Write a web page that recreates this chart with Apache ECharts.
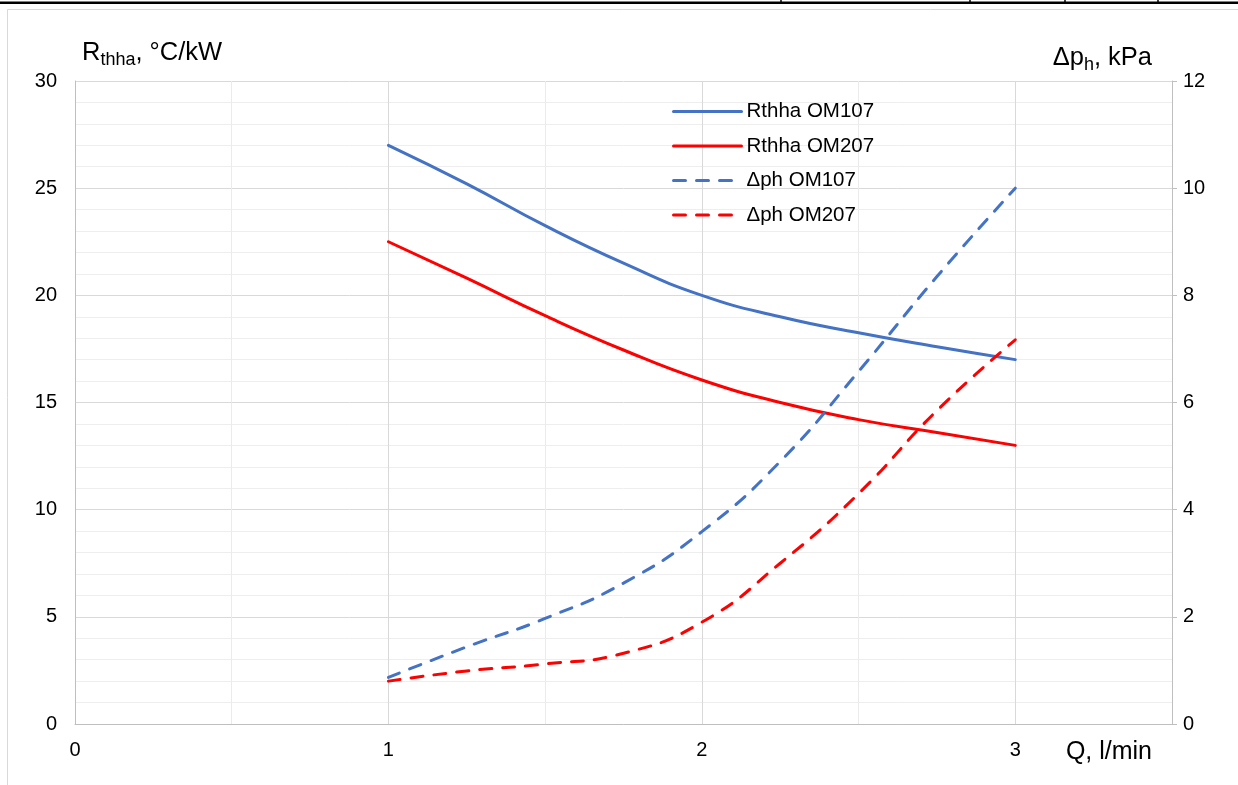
<!DOCTYPE html>
<html>
<head>
<meta charset="utf-8">
<script src="https://cdn.jsdelivr.net/npm/echarts@6/dist/echarts.min.js"></script>
<style>
html,body{margin:0;padding:0;background:#fff;}
#chart{width:1238px;height:785px;}
</style>
</head>
<body>
<div id="chart"></div>
<script>
// Flow rate Q, l/min
const qValues = [1, 1.25, 1.5, 1.75, 2, 2.25, 2.5, 2.75, 3];
// Thermal resistance, °C/kW (left axis)
const rthhaOM107 = [27, 25.2, 23.25, 21.5, 20, 19.0, 18.25, 17.6, 17];
const rthhaOM207 = [22.5, 20.8, 19.05, 17.45, 16.05, 15.0, 14.2, 13.6, 13];
// Pressure drop, kPa (right axis)
const dphOM107 = [0.87, 1.44, 1.97, 2.63, 3.59, 4.9, 6.58, 8.35, 10];
const dphOM207 = [0.8, 0.99, 1.12, 1.32, 1.9, 3.0, 4.3, 5.85, 7.17];
const seriesNames = ['Rthha OM107', 'Rthha OM207', '\u0394ph OM107', '\u0394ph OM207'];
const xTicks = [0, 1, 2, 3];

const FONT = '"Liberation Sans", Arial, sans-serif';
const BLUE = '#4472C4';
const RED = '#FF0000';
const DASH = [12, 11];

function pairs(arr) { return qValues.map((q, i) => [q, arr[i]]); }

const chart = echarts.init(document.getElementById('chart'));
const option = {
  backgroundColor: '#fff',
  animation: false,
  textStyle: { fontFamily: FONT },
  grid: { left: 75, right: 66, top: 81, bottom: 61 },
  legend: {
    orient: 'vertical',
    left: 667,
    top: 96,
    itemWidth: 68,
    itemHeight: 20,
    itemGap: 13.5,
    itemStyle: { color: 'rgba(0,0,0,0)', borderWidth: 0, opacity: 0 },
    lineStyle: { width: 3, cap: 'round' },
    textStyle: { fontSize: 20.5, color: '#000', fontFamily: FONT },
    data: seriesNames
  },
  xAxis: {
    type: 'value',
    min: 0,
    max: 3.5,
    interval: 0.5,
    axisLine: { show: true, lineStyle: { color: '#bfbfbf', width: 1 } },
    axisTick: { show: false },
    axisLabel: {
      fontSize: 20, color: '#000', margin: 16,
      formatter: v => (xTicks.indexOf(v) >= 0 ? String(v) : '')
    },
    splitLine: { show: true, lineStyle: { color: ['#d9d9d9', '#ebebeb'], width: 1 } },
    name: 'Q, l/min',
    nameLocation: 'end',
    nameGap: -20,
    nameTextStyle: { fontSize: 25, color: '#000', align: 'right', verticalAlign: 'top', padding: [16, 0, 0, 0] }
  },
  yAxis: [
    {
      type: 'value',
      position: 'left',
      min: 0, max: 30, interval: 5,
      axisLine: { show: true, lineStyle: { color: '#bfbfbf', width: 1 } },
      axisTick: { show: false },
      axisLabel: { fontSize: 20, color: '#000', margin: 18 },
      splitLine: { show: true, lineStyle: { color: '#d9d9d9', width: 1 } },
      minorTick: { show: false, splitNumber: 5 },
      minorSplitLine: { show: true, lineStyle: { color: '#eeeeee', width: 1 } },
      name: '{a|R}{s|thha}{a|, \u00B0C/kW}',
      nameLocation: 'end',
      nameGap: 12,
      nameTextStyle: {
        align: 'left', verticalAlign: 'bottom', padding: [0, 0, 0, 7],
        rich: {
          a: { fontSize: 25.5, lineHeight: 32, color: '#000', fontFamily: FONT },
          s: { fontSize: 18, lineHeight: 14, color: '#000', verticalAlign: 'bottom', fontFamily: FONT }
        }
      }
    },
    {
      type: 'value',
      position: 'right',
      min: 0, max: 12, interval: 2,
      axisLine: { show: true, lineStyle: { color: '#bfbfbf', width: 1 } },
      axisTick: { show: true, length: 5, lineStyle: { color: '#bfbfbf', width: 1 } },
      axisLabel: { fontSize: 20, color: '#000', margin: 11 },
      splitLine: { show: false },
      name: '{a|\u0394p}{s|h}{a|, kPa}',
      nameLocation: 'end',
      nameGap: 7,
      nameTextStyle: {
        align: 'right', verticalAlign: 'bottom', padding: [0, 20, 0, 0],
        rich: {
          a: { fontSize: 25.5, lineHeight: 32, color: '#000', fontFamily: FONT },
          s: { fontSize: 18, lineHeight: 14, color: '#000', verticalAlign: 'bottom', fontFamily: FONT }
        }
      }
    }
  ],
  series: [
    {
      name: seriesNames[0], type: 'line', yAxisIndex: 0, smooth: true,
      symbol: 'none', color: BLUE,
      lineStyle: { color: BLUE, width: 3, type: 'solid', cap: 'round' },
      data: pairs(rthhaOM107)
    },
    {
      name: seriesNames[1], type: 'line', yAxisIndex: 0, smooth: true,
      symbol: 'none', color: RED,
      lineStyle: { color: RED, width: 3, type: 'solid', cap: 'round' },
      data: pairs(rthhaOM207)
    },
    {
      name: seriesNames[2], type: 'line', yAxisIndex: 1, smooth: true,
      symbol: 'none', color: BLUE,
      lineStyle: { color: BLUE, width: 3, type: DASH, cap: 'round' },
      data: pairs(dphOM107)
    },
    {
      name: seriesNames[3], type: 'line', yAxisIndex: 1, smooth: true,
      symbol: 'none', color: RED,
      lineStyle: { color: RED, width: 3, type: DASH, cap: 'round' },
      data: pairs(dphOM207)
    }
  ],
  graphic: [
    { type: 'rect', left: 0, top: 1.5, shape: { width: 1238, height: 2.5 }, style: { fill: '#000' }, silent: true },
    { type: 'line', shape: { x1: 781, y1: 0, x2: 781, y2: 3 }, style: { stroke: '#000', lineWidth: 1.5 }, silent: true },
    { type: 'line', shape: { x1: 970, y1: 0, x2: 970, y2: 3 }, style: { stroke: '#000', lineWidth: 1.5 }, silent: true },
    { type: 'line', shape: { x1: 1065, y1: 0, x2: 1065, y2: 3 }, style: { stroke: '#000', lineWidth: 1.5 }, silent: true },
    { type: 'line', shape: { x1: 1158, y1: 0, x2: 1158, y2: 3 }, style: { stroke: '#000', lineWidth: 1.5 }, silent: true },
    { type: 'polyline', shape: { points: [[7.5, 785], [7.5, 9.5], [1238, 9.5]] }, style: { stroke: '#d9d9d9', lineWidth: 1, fill: null }, silent: true }
  ]
};
chart.setOption(option);
</script>
</body>
</html>
